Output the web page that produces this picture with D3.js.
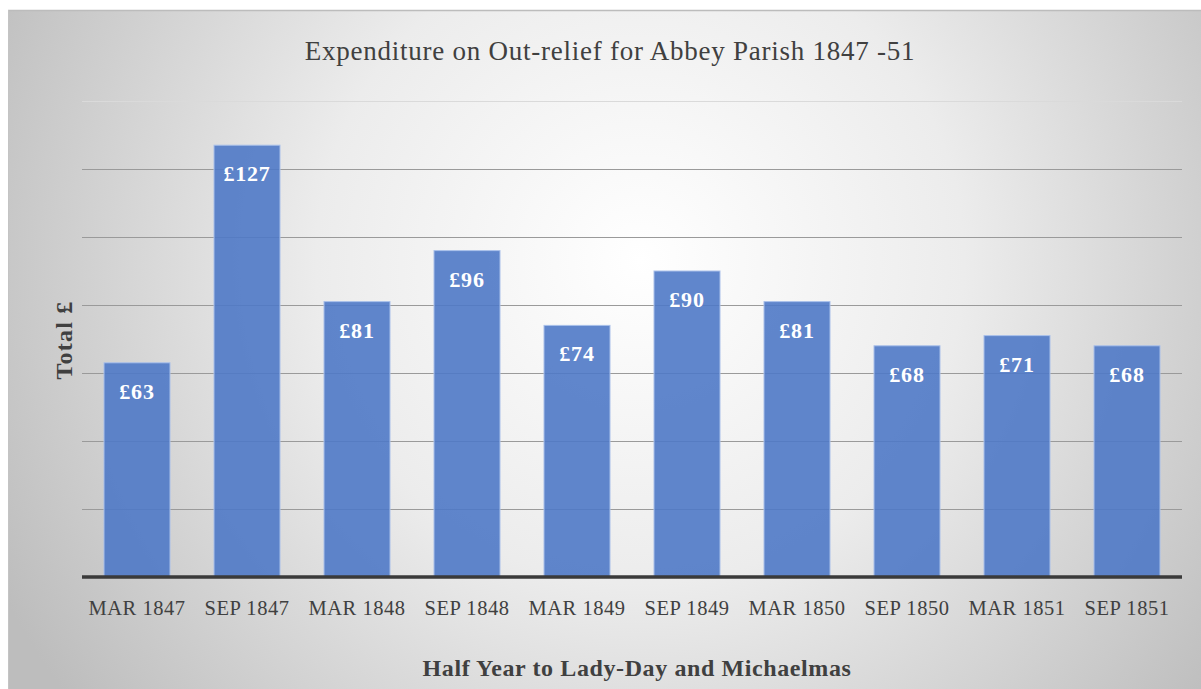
<!DOCTYPE html>
<html><head><meta charset="utf-8">
<script src="https://cdn.jsdelivr.net/npm/d3@7"></script>
<style>html,body{margin:0;padding:0;background:#fff;overflow:hidden}</style>
</head><body>
<svg id="c" width="1201" height="689"></svg>
<script>
const categories = ["MAR 1847","SEP 1847","MAR 1848","SEP 1848","MAR 1849","SEP 1849","MAR 1850","SEP 1850","MAR 1851","SEP 1851"];
const values = [63,127,81,96,74,90,81,68,71,68];
const yTicks = [0,20,40,60,80,100,120,140];
const title = "Expenditure on Out-relief for Abbey Parish 1847 -51";
const xTitle = "Half Year to Lady-Day and Michaelmas";
const yTitle = "Total £";

(function(){
const FONT = "'Liberation Serif','DejaVu Serif',serif";
const svg = d3.select("#c");
const defs = svg.append("defs");
const g = defs.append("radialGradient").attr("id","bg").attr("gradientUnits","userSpaceOnUse")
  .attr("cx",640).attr("cy",260).attr("r",720);
g.append("stop").attr("offset","0").attr("stop-color","#ffffff");
g.append("stop").attr("offset","0.45").attr("stop-color","#ececec");
g.append("stop").attr("offset","1").attr("stop-color","#bdbdbd");

svg.append("rect").attr("x",8).attr("y",10).attr("width",1193).attr("height",679).attr("fill","url(#bg)");
svg.append("line").attr("x1",8).attr("x2",1201).attr("y1",10.5).attr("y2",10.5).attr("stroke","#bcbcbc").attr("stroke-width",1.5);
svg.append("line").attr("x1",8.5).attr("x2",8.5).attr("y1",10).attr("y2",689).attr("stroke","#c4c4c4").attr("stroke-width",1);

const pL=82, pR=1182, pT=101, pB=577;
const x = d3.scaleBand().domain(categories).range([pL,pR]).paddingInner(0.4).paddingOuter(0.2);
const y = d3.scaleLinear().domain([0,140]).range([pB,pT]);

svg.append("g").selectAll("line").data(yTicks.filter(d=>d>0)).join("line")
  .attr("x1",pL).attr("x2",pR).attr("y1",d=>Math.round(y(d))+0.5).attr("y2",d=>Math.round(y(d))+0.5)
  .attr("stroke",d=>d===140?"#dadada":"#9a9a9a").attr("stroke-width",1);

svg.append("g").selectAll("rect").data(values).join("rect")
  .attr("x",(d,i)=>x(categories[i])).attr("width",x.bandwidth())
  .attr("y",d=>y(d)).attr("height",d=>pB-y(d))
  .attr("fill","#4f79c6").attr("fill-opacity",0.9)
  .attr("stroke","#a9c0ea").attr("stroke-width",1);

svg.append("line").attr("x1",pL).attr("x2",pR).attr("y1",pB).attr("y2",pB)
  .attr("stroke","#3a3a3a").attr("stroke-width",3.5);

svg.append("g").selectAll("text").data(values).join("text")
  .attr("x",(d,i)=>x(categories[i])+x.bandwidth()/2).attr("y",d=>y(d)+36)
  .attr("text-anchor","middle").attr("font-family",FONT).attr("font-weight","bold")
  .attr("font-size",22).attr("letter-spacing",0.8).attr("fill","#fff").text(d=>"£"+d);

const xa = svg.append("g").attr("transform",`translate(0,${pB})`)
  .call(d3.axisBottom(x).tickSize(0).tickPadding(23));
xa.select(".domain").remove();
xa.selectAll("text").attr("font-family",FONT).attr("font-size",20.5).attr("letter-spacing",0.55).attr("fill","#404040");

svg.append("text").attr("x",610).attr("y",60).attr("text-anchor","middle")
  .attr("font-family",FONT).attr("font-size",27).attr("letter-spacing",0.75).attr("fill","#404040").text(title);
svg.append("text").attr("x",637).attr("y",676).attr("text-anchor","middle")
  .attr("font-family",FONT).attr("font-weight","bold").attr("font-size",24).attr("letter-spacing",0.6).attr("fill","#404040").text(xTitle);
svg.append("text").attr("transform","translate(72,340) rotate(-90)").attr("text-anchor","middle")
  .attr("font-family",FONT).attr("font-weight","bold").attr("font-size",24).attr("letter-spacing",1.2).attr("fill","#404040").text(yTitle);
})();
</script>
</body></html>
